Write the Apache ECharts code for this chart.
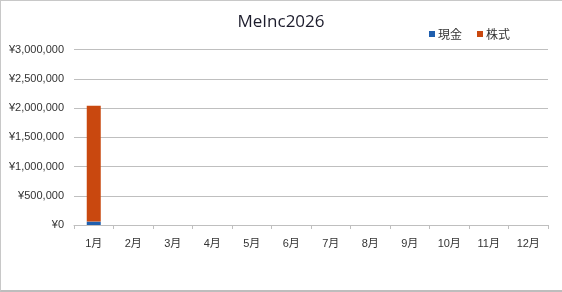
<!DOCTYPE html>
<html>
<head>
<meta charset="utf-8">
<script src="https://cdn.jsdelivr.net/npm/echarts@6/dist/echarts.min.js"></script>
<style>
html,body{margin:0;padding:0;background:#fff;}
#wrap{position:absolute;left:0;top:0;width:562px;height:292px;box-sizing:border-box;border-left:1px solid #c8c8c8;border-top:1px solid #c8c8c8;border-bottom:2px solid #bdbdbd;}
#chart{width:562px;height:292px;position:absolute;left:0;top:0;}
</style>
</head>
<body>
<div id="wrap"></div>
<div id="chart"></div>
<script>
var title = 'MeInc2026';
var categories = ['1月','2月','3月','4月','5月','6月','7月','8月','9月','10月','11月','12月'];
var seriesNames = ['現金','株式'];
var cash = [58000, null, null, null, null, null, null, null, null, null, null, null];
var stock = [1982000, null, null, null, null, null, null, null, null, null, null, null];
var yMin = 0, yMax = 3000000, yStep = 500000;

var FONT = '"Liberation Sans", "Noto Sans CJK JP", sans-serif';
var chart = echarts.init(document.getElementById('chart'), null, {renderer:'canvas'});
chart.setOption({
  animation:false,
  backgroundColor:'transparent',
  title:{text:title,left:'center',top:9,textStyle:{fontFamily:'"Open Sans","Noto Sans CJK JP",sans-serif',fontSize:17,fontWeight:'normal',color:'#1c1c2c'}},
  legend:{data:seriesNames,left:424,top:23,itemWidth:6,itemHeight:6,itemGap:15,icon:'rect',
    textStyle:{fontFamily:'"Noto Sans CJK JP",sans-serif',fontSize:12,color:'#333333',padding:[0,0,0,-2]}},
  grid:{left:74,right:14,top:49.5,bottom:67,containLabel:false},
  xAxis:{type:'category',data:categories,
    axisLine:{lineStyle:{color:'#bfbfbf',width:1}},
    axisTick:{show:true,length:4,lineStyle:{color:'#bfbfbf'}},
    axisLabel:{fontFamily:FONT,fontSize:11,color:'#333333',margin:13}},
  yAxis:{type:'value',min:yMin,max:yMax,interval:yStep,
    axisLine:{show:false},axisTick:{show:false},
    splitLine:{lineStyle:{color:'#bfbfbf',width:1}},
    axisLabel:{fontFamily:FONT,fontSize:11,color:'#333333',margin:10,
      formatter:function(v){return '¥'+v.toLocaleString('en-US');}}},
  series:[
    {name:seriesNames[0],type:'bar',stack:'a',data:cash,barWidth:14,itemStyle:{color:'#1f5fae'}},
    {name:seriesNames[1],type:'bar',stack:'a',data:stock,barWidth:14,itemStyle:{color:'#c9480f'}}
  ]
});
</script>
</body>
</html>
